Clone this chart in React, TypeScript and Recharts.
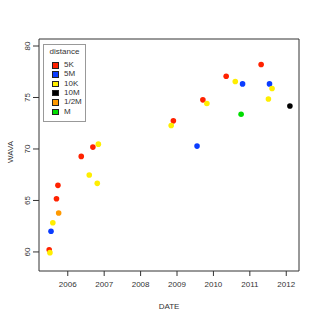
import { ScatterChart, Scatter, XAxis, YAxis, ReferenceArea } from 'recharts';

// points, grouped by race distance
const distances = ['5K', '5M', '10K', '10M', '1/2M', 'M'];
const colors = ['#ff2200', '#0a3cff', '#ffee00', '#000000', '#ff9900', '#00dd00'];

const dates5K = [2005.49, 2005.69, 2005.73, 2006.37, 2006.69, 2008.9, 2009.71, 2010.35, 2011.31];
const wava5K = [60.22, 65.17, 66.47, 69.28, 70.18, 72.73, 74.77, 77.06, 78.2];
const dates5M = [2005.54, 2009.55, 2010.8, 2011.54];
const wava5M = [62.01, 70.28, 76.32, 76.32];
const dates10K = [2005.51, 2005.59, 2006.59, 2006.81, 2006.84, 2008.84, 2009.82, 2010.6, 2011.51, 2011.61];
const wava10K = [59.93, 62.84, 67.47, 66.66, 70.47, 72.28, 74.42, 76.55, 74.86, 75.87];
const dates10M = [2012.1];
const wava10M = [74.18];
const datesHalf = [2005.75];
const wavaHalf = [63.78];
const datesM = [2010.76];
const wavaM = [73.37];

const xTicks = [2006, 2007, 2008, 2009, 2010, 2011, 2012];
const yTicks = [60, 65, 70, 75, 80];
const xDomain = [2005.21, 2012.35];
const yDomain = [58.15, 80.68];

const pairs = (d: number[], w: number[]) => d.map((date, i) => ({ date, wava: w[i] }));

const series = [
    pairs(dates5K, wava5K),
    pairs(dates5M, wava5M),
    pairs(dates10K, wava10K),
    pairs(dates10M, wava10M),
    pairs(datesHalf, wavaHalf),
    pairs(datesM, wavaM),
];

const font = '"Liberation Sans", Arial, sans-serif';
const textColor = '#333';

const YTick = (props: any) => {
    const { y, payload } = props;
    return (
        <text x={30} y={y} transform={`rotate(-90 30 ${y})`} textAnchor="middle" fontSize={8} fill={textColor} fontFamily={font}>
            {payload.value}
        </text>
    );
};

export default function App() {
    return (
        <div style={{ position: 'absolute', left: 0, top: 0, width: 320, height: 320, background: '#fff', fontFamily: font }}>
            <ScatterChart width={320} height={320} margin={{ top: 39, right: 21, bottom: 0, left: 0 }}>
                <XAxis
                    type="number"
                    dataKey="date"
                    domain={xDomain}
                    ticks={xTicks}
                    allowDataOverflow
                    axisLine={false}
                    tickLine={{ stroke: textColor }}
                    tickSize={5}
                    tickMargin={5}
                    height={49}
                    tick={{ fontSize: 8, fill: textColor, fontFamily: font }}
                    label={{ value: 'DATE', position: 'insideBottom', offset: 11, fontSize: 8, fill: textColor, fontFamily: font }}
                />
                <YAxis
                    type="number"
                    dataKey="wava"
                    domain={yDomain}
                    ticks={yTicks}
                    allowDataOverflow
                    axisLine={false}
                    tickLine={{ stroke: textColor }}
                    tickSize={6}
                    width={39}
                    tick={<YTick />}
                    label={() => (
                        <text x={13} y={152} transform="rotate(-90 13 152)" textAnchor="middle" fontSize={8} fill={textColor} fontFamily={font}>
                            WAVA
                        </text>
                    )}
                />
                <ReferenceArea x1={xDomain[0]} x2={xDomain[1]} y1={yDomain[0]} y2={yDomain[1]} fill="none" stroke="#333" strokeWidth={1} />
                {series.map((data, i) => (
                    <Scatter
                        key={distances[i]}
                        name={distances[i]}
                        data={data}
                        fill={colors[i]}
                        isAnimationActive={false}
                        shape={(p: any) => <circle cx={p.cx} cy={p.cy} r={2.8} fill={colors[i]} />}
                    />
                ))}
            </ScatterChart>
            <div style={{ position: 'absolute', left: 43, top: 44, width: 41, height: 76, border: '1px solid #999', background: '#fff', fontSize: 8, color: textColor }}>
                <div style={{ position: 'absolute', left: 0, width: 41, top: 2, textAlign: 'center' }}>distance</div>
                {distances.map((d, i) => (
                    <div key={d} style={{ position: 'absolute', left: 0, top: 15 + i * 9.3, height: 9, width: 41 }}>
                        <div style={{ position: 'absolute', left: 8, top: 2, width: 4.5, height: 4.5, background: colors[i], border: '1px solid #222' }} />
                        <div style={{ position: 'absolute', left: 20, top: 0, lineHeight: '9px' }}>{d}</div>
                    </div>
                ))}
            </div>
        </div>
    );
}
